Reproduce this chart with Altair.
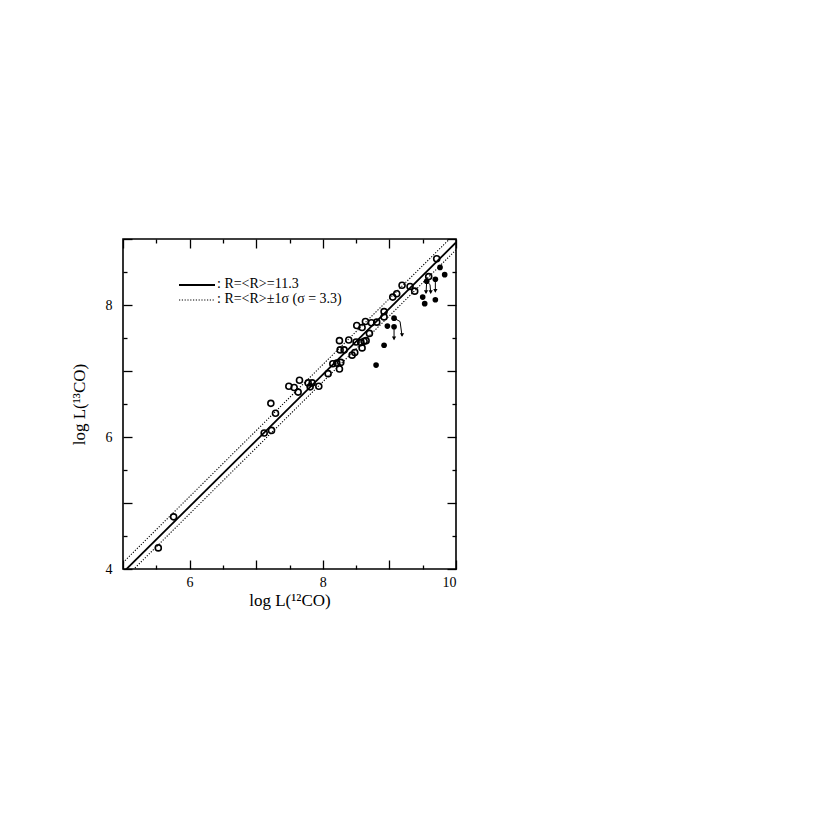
import altair as alt
import pandas as pd
import numpy as np

# ---------------- data ----------------
open_x = [5.53, 5.76, 7.12, 7.23, 7.22, 7.29, 7.49, 7.57, 7.65, 7.63, 7.78, 7.81,
          7.84, 7.94, 8.08, 8.15, 8.21, 8.25, 8.27, 8.25, 8.26, 8.32, 8.39, 8.44,
          8.48, 8.50, 8.51, 8.57, 8.59, 8.59, 8.62, 8.65, 8.64, 8.70, 8.73, 8.81,
          8.92, 8.92, 9.05, 9.11, 9.19, 9.31, 9.38, 9.59, 9.71]
open_y = [4.32, 4.79, 6.06, 6.10, 6.51, 6.36, 6.77, 6.75, 6.86, 6.68, 6.82, 6.76,
          6.82, 6.77, 6.96, 7.11, 7.12, 7.03, 7.13, 7.46, 7.32, 7.32, 7.47, 7.24,
          7.28, 7.44, 7.69, 7.43, 7.66, 7.35, 7.45, 7.46, 7.75, 7.57, 7.73, 7.74,
          7.82, 7.90, 8.12, 8.17, 8.30, 8.28, 8.21, 8.43, 8.70]

filled_x = [8.80, 8.92, 8.97, 9.07, 9.07, 9.50, 9.53, 9.56, 9.69, 9.69, 9.76, 9.83]
filled_y = [7.09, 7.39, 7.68, 7.80, 7.67, 8.12, 8.02, 8.36, 8.39, 8.08, 8.57, 8.46]

# upper-limit arrows (polyline vertices, last vertex = tip)
arrow_id = [1, 1, 2, 2, 2, 3, 3, 4, 4, 4, 5, 5]
arrow_x = [9.07, 9.07, 9.07, 9.16, 9.19, 9.56, 9.55, 9.56, 9.61, 9.62, 9.69, 9.69]
arrow_y = [7.67, 7.48, 7.80, 7.75, 7.53, 8.36, 8.18, 8.36, 8.31, 8.18, 8.39, 8.20]

R_mean = 11.3
R_sigma = 3.3
line_x = [5.0, 10.0]

x_domain = [5, 10]
y_domain = [4, 9]
x_major = [5, 6, 7, 8, 9, 10]
x_minor = [5.5, 6.5, 7.5, 8.5, 9.5]
y_major = [4, 5, 6, 7, 8, 9]
y_minor = [4.5, 5.5, 6.5, 7.5, 8.5]
x_labels = [6, 8, 10]
y_labels = [4, 6, 8]

legend_texts = [": R=<R>=11.3", ": R=<R>\u00b11\u03c3  (\u03c3  =  3.3)"]

# ---------------- tables ----------------
df_open = pd.DataFrame({"x": open_x, "y": open_y})
df_filled = pd.DataFrame({"x": filled_x, "y": filled_y})
df_arrow = pd.DataFrame({"id": arrow_id, "x": arrow_x, "y": arrow_y})
df_arrow["order"] = range(len(df_arrow))
df_tip = df_arrow.groupby("id").last().reset_index()

rows = []
for name, R in [("mean", R_mean), ("low", R_mean - R_sigma), ("high", R_mean + R_sigma)]:
    for xv in line_x:
        rows.append({"line": name, "x": xv, "y": xv - np.log10(R)})
df_lines = pd.DataFrame(rows)

FONT = "Liberation Serif"
xs = alt.Scale(domain=x_domain, nice=False, zero=False)
ys = alt.Scale(domain=y_domain, nice=False, zero=False)


def tick_axis(orient, values, size):
    return alt.Axis(orient=orient, values=values, labels=False, domain=False,
                    tickSize=size, offset=-size, tickColor="black", tickWidth=1.3,
                    title=None, grid=False)


# layer A: model lines + labelled axes
lines_solid = alt.Chart(df_lines[df_lines.line == "mean"]).mark_line(
    color="black", strokeWidth=1.8, clip=True).encode(
    x=alt.X("x:Q", scale=xs, axis=alt.Axis(
        orient="bottom", values=x_labels, ticks=False, tickSize=0, domain=False,
        labelPadding=6, labelFont=FONT, labelFontSize=14, labelColor="black",
        title="log  L(\u00b9\u00b2CO)", titleFont=FONT, titleFontSize=17,
        titleFontWeight="normal", titleColor="black", titlePadding=3, grid=False)),
    y=alt.Y("y:Q", scale=ys, axis=alt.Axis(
        orient="left", values=y_labels, ticks=False, tickSize=0, domain=False,
        labelPadding=11, labelFont=FONT, labelFontSize=14, labelColor="black",
        title="log  L(\u00b9\u00b3CO)", titleFont=FONT, titleFontSize=17,
        titleFontWeight="normal", titleColor="black", titlePadding=17, grid=False)),
)

lines_dotted = alt.Chart(df_lines[df_lines.line != "mean"]).mark_line(
    color="black", strokeWidth=1.1, strokeDash=[1.2, 1.6], clip=True).encode(
    x=alt.X("x:Q", scale=xs, axis=tick_axis("bottom", x_major, 9)),
    y=alt.Y("y:Q", scale=ys, axis=tick_axis("left", y_major, 9)),
    detail="line:N",
)

arrows = alt.Chart(df_arrow).mark_line(color="black", strokeWidth=1).encode(
    x=alt.X("x:Q", scale=xs, axis=tick_axis("bottom", x_minor, 4)),
    y=alt.Y("y:Q", scale=ys, axis=tick_axis("left", y_minor, 4)),
    detail="id:N",
    order="order:Q",
)

tips = alt.Chart(df_tip).mark_point(shape="triangle-down", filled=True, color="black",
                                    size=18, opacity=1, yOffset=-1).encode(
    x=alt.X("x:Q", scale=xs, axis=tick_axis("top", x_major, 9)),
    y=alt.Y("y:Q", scale=ys, axis=tick_axis("right", y_major, 9)),
)

open_pts = alt.Chart(df_open).mark_point(shape="circle", filled=False, color="black",
                                          size=36, strokeWidth=1.6, opacity=1).encode(
    x=alt.X("x:Q", scale=xs, axis=tick_axis("top", x_minor, 4)),
    y=alt.Y("y:Q", scale=ys, axis=tick_axis("right", y_minor, 4)),
)

filled_pts = alt.Chart(df_filled).mark_circle(color="black", size=32, opacity=1).encode(
    x=alt.X("x:Q", scale=xs, axis=None),
    y=alt.Y("y:Q", scale=ys, axis=None),
)

# legend (drawn inside the plot)
leg_solid = alt.Chart(pd.DataFrame({"a": [0]})).mark_rule(
    color="black", strokeWidth=1.8).encode(
    x=alt.value(56), x2=alt.value(92), y=alt.value(46))
leg_dot = alt.Chart(pd.DataFrame({"a": [0]})).mark_rule(
    color="black", strokeWidth=1.1, strokeDash=[1.2, 1.6]).encode(
    x=alt.value(56), x2=alt.value(92), y=alt.value(61))
leg_t1 = alt.Chart(pd.DataFrame({"t": [legend_texts[0]]})).mark_text(
    font=FONT, fontSize=14, align="left", baseline="middle", color="black").encode(
    x=alt.value(94), y=alt.value(45), text="t:N")
leg_t2 = alt.Chart(pd.DataFrame({"t": [legend_texts[1]]})).mark_text(
    font=FONT, fontSize=14, align="left", baseline="middle", color="black").encode(
    x=alt.value(94), y=alt.value(60), text="t:N")

chart = alt.layer(
    lines_solid, lines_dotted, arrows, tips, open_pts, filled_pts,
    leg_solid, leg_dot, leg_t1, leg_t2,
).resolve_axis(
    x="independent", y="independent"
).properties(
    width=333, height=330,
    autosize=alt.AutoSizeParams(type="none"),
    padding={"left": 115, "top": 231, "right": 60, "bottom": 80},
).configure_view(
    stroke="black", strokeWidth=1.6
).configure_axis(grid=False)

chart.save("out.html", embed_options={"renderer": "svg", "actions": False})
